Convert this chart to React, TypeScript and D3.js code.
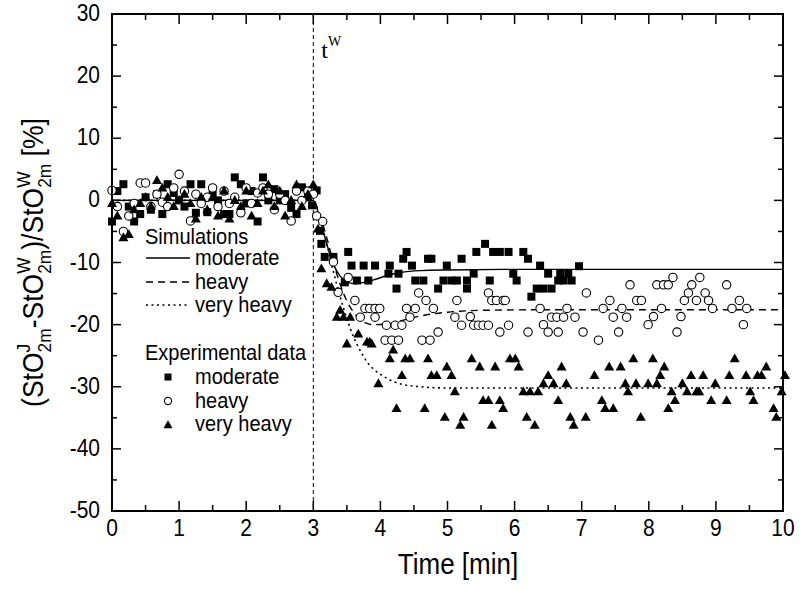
import React from "react";
import * as d3 from "d3";

// ---------- data (time [min], value [%]) ----------
const moderateExp: [number, number][] = [
  [0.0, -3.4], [0.08, 1.5], [0.17, 2.6], [0.25, -1.0], [0.33, -3.4], [0.42, -2.2], [0.5, 0.5], [0.58, -1.5],
  [0.67, 1.0], [0.75, -2.2], [0.83, 2.6], [0.92, 1.2], [1.0, 0.0], [1.08, -1.0], [1.17, 2.6], [1.25, -2.0],
  [1.33, 2.6], [1.42, -1.9], [1.5, 1.0], [1.58, 0.0], [1.67, -2.2], [1.75, -2.2], [1.83, 3.7], [1.92, 2.6],
  [2.0, -0.5], [2.08, 1.5], [2.17, -3.4], [2.25, 3.7], [2.33, 0.0], [2.42, 1.8], [2.5, 0.0], [2.58, 1.0],
  [2.67, -1.2], [2.75, -2.2], [2.83, 2.1], [2.92, 0.5], [2.98, -0.8], [3.05, 1.6], [3.1, -4.9], [3.12, -7.0],
  [3.17, -9.1], [3.3, -9.1], [3.47, -13.2], [3.52, -8.3], [3.57, -10.5], [3.65, -12.9], [3.75, -10.5],
  [3.82, -12.9], [3.92, -10.5], [4.12, -11.8], [4.14, -10.5], [4.24, -14.2], [4.27, -11.8], [4.34, -9.4],
  [4.39, -8.3], [4.47, -10.5], [4.52, -12.9], [4.64, -12.9], [4.71, -9.4], [4.76, -9.4], [4.86, -14.2],
  [4.94, -12.9], [4.99, -10.5], [5.06, -12.9], [5.14, -12.9], [5.21, -9.4], [5.29, -12.9], [5.29, -14.2],
  [5.39, -11.8], [5.43, -8.3], [5.56, -7.0], [5.63, -12.9], [5.68, -8.3], [5.78, -8.3], [5.91, -8.3],
  [5.98, -11.8], [6.03, -12.9], [6.13, -8.3], [6.2, -9.4], [6.25, -15.5], [6.33, -14.2], [6.38, -10.5],
  [6.43, -14.2], [6.5, -11.8], [6.55, -14.2], [6.65, -12.9], [6.68, -11.8], [6.73, -12.9], [6.8, -11.8],
  [6.85, -12.9], [6.96, -10.6],
];

const heavyExp: [number, number][] = [
  [0.0, 1.6], [0.08, -1.0], [0.17, -5.0], [0.25, -2.5], [0.33, -0.5], [0.42, 2.8], [0.5, 2.8], [0.58, -1.0],
  [0.67, 1.0], [0.75, -0.3], [0.83, -1.0], [0.92, 2.0], [1.0, 4.2], [1.08, 1.5], [1.17, -3.3], [1.25, 1.0],
  [1.33, -0.5], [1.42, 0.5], [1.5, 2.0], [1.58, -1.0], [1.67, 1.5], [1.75, -0.5], [1.83, 0.5], [1.92, -2.0],
  [2.0, 2.0], [2.08, -0.5], [2.17, 1.2], [2.25, 2.0], [2.33, 1.0], [2.42, -1.5], [2.5, 1.0], [2.58, 0.0],
  [2.67, -3.3], [2.75, 1.5], [2.83, 0.0], [2.92, 1.5], [3.0, 1.0], [3.05, -2.5], [3.14, -3.4], [3.3, -9.9],
  [3.37, -14.8], [3.52, -12.4], [3.62, -16.1], [3.7, -18.8], [3.77, -17.4], [3.84, -17.4], [3.92, -17.4],
  [3.92, -18.8], [3.99, -17.4], [4.07, -22.5], [4.09, -20.1], [4.17, -22.5], [4.22, -20.1], [4.27, -22.5],
  [4.32, -20.1], [4.39, -17.4], [4.44, -18.8], [4.52, -17.4], [4.57, -14.9], [4.62, -22.5], [4.68, -16.1],
  [4.74, -22.5], [4.79, -17.4], [4.86, -21.2], [5.11, -18.8], [5.14, -16.1], [5.21, -20.1], [5.34, -18.7],
  [5.39, -20.1], [5.46, -20.1], [5.53, -20.1], [5.61, -20.1], [5.61, -14.9], [5.66, -16.1], [5.73, -16.1],
  [5.78, -21.2], [5.83, -16.1], [5.86, -16.1], [5.91, -20.1], [6.2, -21.2], [6.38, -17.4], [6.43, -20.0],
  [6.5, -21.2], [6.55, -18.8], [6.63, -18.8], [6.65, -21.2], [6.73, -18.8], [6.78, -17.4], [6.9, -18.8],
  [7.02, -21.2], [7.07, -14.9], [7.25, -22.5], [7.32, -17.4], [7.42, -16.1], [7.47, -18.8], [7.55, -21.2],
  [7.6, -17.4], [7.67, -18.8], [7.72, -13.6], [7.82, -16.1], [7.89, -16.1], [7.99, -20.0], [8.07, -18.7],
  [8.12, -13.6], [8.19, -17.4], [8.22, -13.6], [8.29, -13.6], [8.36, -12.4], [8.42, -21.2], [8.48, -18.7],
  [8.53, -16.1], [8.59, -14.9], [8.64, -13.6], [8.71, -16.1], [8.76, -12.4], [8.84, -14.9], [8.89, -16.1],
  [8.95, -17.4], [9.16, -13.6], [9.24, -17.4], [9.35, -16.1], [9.41, -20.0], [9.46, -17.4],
];

const veryHeavyExp: [number, number][] = [
  [0.0, -0.5], [0.08, -2.5], [0.17, -6.0], [0.25, -5.5], [0.33, -1.5], [0.42, -0.5], [0.5, 0.5], [0.58, -1.0],
  [0.67, 3.2], [0.75, 2.0], [0.83, 0.5], [0.92, -1.0], [1.0, 0.0], [1.08, 1.0], [1.17, -0.5], [1.25, -3.0],
  [1.33, 0.5], [1.42, -1.5], [1.5, 0.5], [1.58, -2.5], [1.67, 1.5], [1.75, -3.0], [1.83, 0.0], [1.92, -1.0],
  [2.0, 1.5], [2.08, -2.5], [2.17, -0.5], [2.25, 1.5], [2.33, 2.5], [2.42, -1.0], [2.5, 1.5], [2.58, -2.5],
  [2.67, 0.0], [2.75, 2.5], [2.83, -1.0], [2.92, 1.0], [3.0, 2.5], [3.07, -4.6], [3.12, -11.0], [3.2, -13.4],
  [3.27, -14.0], [3.35, -18.8], [3.4, -17.7], [3.45, -18.8], [3.5, -23.1], [3.55, -18.8], [3.67, -21.5],
  [3.8, -22.8], [3.84, -22.8], [3.87, -23.1], [3.97, -29.5], [4.14, -25.5], [4.19, -24.1], [4.24, -33.5],
  [4.32, -28.2], [4.37, -25.5], [4.44, -25.5], [4.66, -33.5], [4.71, -25.5], [4.76, -28.2], [4.84, -28.2],
  [4.96, -34.9], [4.99, -26.8], [5.06, -28.2], [5.11, -30.8], [5.19, -36.2], [5.24, -34.9], [5.36, -25.5],
  [5.48, -26.8], [5.53, -32.2], [5.61, -32.2], [5.66, -36.2], [5.71, -26.8], [5.78, -32.2], [5.83, -33.5],
  [5.93, -25.5], [6.01, -25.5], [6.06, -26.8], [6.13, -30.8], [6.18, -34.9], [6.23, -30.8], [6.3, -36.2],
  [6.35, -30.8], [6.43, -29.5], [6.5, -28.2], [6.58, -29.5], [6.65, -32.2], [6.7, -26.8], [6.77, -29.5],
  [6.83, -34.9], [6.88, -36.2], [7.06, -34.9], [7.19, -28.2], [7.3, -32.2], [7.35, -33.5], [7.41, -26.8],
  [7.47, -33.5], [7.58, -26.8], [7.65, -29.5], [7.69, -30.8], [7.77, -25.5], [7.81, -29.5], [7.88, -34.9],
  [7.99, -29.5], [8.06, -25.5], [8.12, -29.5], [8.17, -28.2], [8.23, -26.8], [8.29, -33.5], [8.34, -30.8],
  [8.39, -32.2], [8.5, -29.5], [8.57, -30.8], [8.63, -28.2], [8.71, -30.8], [8.75, -30.8], [8.81, -28.2],
  [8.93, -32.2], [8.99, -29.5], [9.16, -32.2], [9.2, -28.2], [9.28, -25.5], [9.45, -28.2], [9.51, -30.8],
  [9.56, -32.2], [9.62, -28.2], [9.68, -28.2], [9.75, -26.8], [9.86, -33.5], [9.9, -34.9], [9.98, -30.8],
  [10.03, -28.2],
];

const moderateSim: [number, number][] = [
  [0, 0], [3, 0], [3.1, -3], [3.2, -7], [3.3, -10.3], [3.4, -12.2], [3.5, -13.1], [3.6, -13.4], [3.7, -13.3],
  [3.9, -12.8], [4.1, -12.1], [4.3, -11.6], [4.6, -11.3], [5, -11.2], [6, -11.1], [10, -11.1],
];
const heavySim: [number, number][] = [
  [0, 0], [3, 0], [3.1, -2.5], [3.2, -6], [3.3, -10], [3.4, -13.5], [3.5, -16.2], [3.6, -18.0], [3.7, -19.2],
  [3.8, -19.8], [3.9, -20.0], [4.1, -19.9], [4.3, -19.4], [4.6, -18.6], [5, -18.0], [5.5, -17.7], [6.5, -17.6],
  [10, -17.6],
];
const veryHeavySim: [number, number][] = [
  [0, 0], [3, 0], [3.1, -3], [3.2, -7], [3.3, -11.5], [3.4, -15.5], [3.5, -19], [3.6, -22], [3.7, -24.2],
  [3.8, -26], [3.9, -27.2], [4.0, -28.0], [4.2, -29.2], [4.5, -29.9], [5, -30.2], [10, -30.2],
];

const xTicks = [0, 1, 2, 3, 4, 5, 6, 7, 8, 9, 10];
const yTicks = [30, 20, 10, 0, -10, -20, -30, -40, -50];
const warmupTime = 3;

const FONT = "'Liberation Sans', Arial, Helvetica, sans-serif";

// text stretched slightly in height, like the reference's tall glyphs
function TallText(props: {
  x: number;
  y: number;
  size: number;
  anchor?: string;
  k?: number;
  children: React.ReactNode;
}) {
  const k = props.k ?? 1.12;
  return (
    <text
      transform={`translate(${props.x},${props.y}) scale(1,${k})`}
      fontSize={props.size}
      textAnchor={props.anchor ?? "start"}
    >
      {props.children}
    </text>
  );
}

export default function App() {
  const left = 112, right = 783, top = 14, bottom = 511;
  const x = d3.scaleLinear().domain([0, 10]).range([left, right]);
  const y = d3.scaleLinear().domain([-50, 30]).range([bottom, top]);
  const line = d3
    .line<[number, number]>()
    .x((d) => x(d[0]))
    .y((d) => y(d[1]))
    .curve(d3.curveMonotoneX);

  const xMinor = d3.range(0, 10.01, 0.5);
  const yMinor = d3.range(-50, 30.01, 5);

  const sq = 8;
  const tri = (cx: number, cy: number, s = 10) => {
    const h = s * 0.88;
    return `M${cx},${cy - h * 0.6}L${cx + s / 2},${cy + h * 0.4}L${cx - s / 2},${cy + h * 0.4}Z`;
  };

  const legX = 145;
  const lineX0 = 146, lineX1 = 190, textX = 195;
  const lk = 1.06;

  return (
    <svg
      width={800}
      height={589}
      style={{ position: "absolute", left: 0, top: 0, background: "#fff" }}
      fontFamily={FONT}
    >
      <rect x={0} y={0} width={800} height={589} fill="#fff" />
      {/* warm-up line */}
      <line
        x1={x(warmupTime)}
        x2={x(warmupTime)}
        y1={top}
        y2={bottom}
        stroke="#000"
        strokeWidth={1}
        strokeDasharray="4,3"
      />
      <text x={x(warmupTime) + 8} y={58} fontFamily="'Liberation Serif', 'Times New Roman', serif" fontSize={24}>
        t<tspan fontSize={14} dy={-12}>W</tspan>
      </text>

      {/* simulations */}
      <path d={line(moderateSim) || ""} fill="none" stroke="#000" strokeWidth={1.4} />
      <path d={line(heavySim) || ""} fill="none" stroke="#000" strokeWidth={1.4} strokeDasharray="7,5" />
      <path d={line(veryHeavySim) || ""} fill="none" stroke="#000" strokeWidth={1.6} strokeDasharray="2,3.5" />

      {/* experimental */}
      {moderateExp.map((d, i) => (
        <rect key={"m" + i} x={x(d[0]) - sq / 2} y={y(d[1]) - sq / 2} width={sq} height={sq} fill="#000" />
      ))}
      {heavyExp.map((d, i) => (
        <circle key={"h" + i} cx={x(d[0])} cy={y(d[1])} r={4.2} fill="#fff" stroke="#000" strokeWidth={1.1} />
      ))}
      {veryHeavyExp.map((d, i) => (
        <path key={"v" + i} d={tri(x(d[0]), y(d[1]))} fill="#000" />
      ))}

      {/* frame */}
      <rect x={left} y={top} width={right - left} height={bottom - top} fill="none" stroke="#000" strokeWidth={2} />

      {/* ticks */}
      {xMinor.map((t) => {
        const major = Math.abs(t - Math.round(t)) < 1e-6;
        const len = major ? 10 : 6;
        return (
          <g key={"xt" + t}>
            <line x1={x(t)} x2={x(t)} y1={bottom} y2={bottom - len} stroke="#000" strokeWidth={1.5} />
            <line x1={x(t)} x2={x(t)} y1={top} y2={top + len} stroke="#000" strokeWidth={1.5} />
          </g>
        );
      })}
      {yMinor.map((v) => {
        const major = Math.abs(v % 10) < 1e-6;
        const len = major ? 9 : 5;
        return (
          <g key={"yt" + v}>
            <line x1={left} x2={left + len} y1={y(v)} y2={y(v)} stroke="#000" strokeWidth={1.5} />
            <line x1={right} x2={right - len} y1={y(v)} y2={y(v)} stroke="#000" strokeWidth={1.5} />
          </g>
        );
      })}
      {xTicks.map((t) => (
        <TallText key={"xl" + t} x={x(t)} y={bottom + 25} size={21} anchor="middle">
          {t}
        </TallText>
      ))}
      {yTicks.map((v) => (
        <TallText key={"yl" + v} x={left - 12} y={y(v) + 7} size={21} anchor="end">
          {v}
        </TallText>
      ))}

      {/* axis titles */}
      <TallText x={458} y={574} size={26} anchor="middle">
        Time [min]
      </TallText>
      <text transform={`translate(43, ${(top + bottom) / 2}) rotate(-90) scale(1.02,1.12)`} textAnchor="middle" fontSize={26}>
        <tspan>(StO</tspan>
        <tspan fontSize={17} dy={-12}>J</tspan>
        <tspan fontSize={17} dx={-8.5} dy={19}>2m</tspan>
        <tspan dy={-7}>-StO</tspan>
        <tspan fontSize={17} dy={-12}>W</tspan>
        <tspan fontSize={17} dx={-16} dy={19}>2m</tspan>
        <tspan dy={-7}>)/StO</tspan>
        <tspan fontSize={17} dy={-12}>W</tspan>
        <tspan fontSize={17} dx={-16} dy={19}>2m</tspan>
        <tspan dy={-7}> [%]</tspan>
      </text>

      {/* legend */}
      <TallText x={legX} y={244} size={20} k={lk}>Simulations</TallText>
      <line x1={lineX0} x2={lineX1} y1={258} y2={258} stroke="#000" strokeWidth={1.4} />
      <TallText x={textX} y={265} size={20} k={lk}>moderate</TallText>
      <line x1={lineX0} x2={lineX1} y1={282} y2={282} stroke="#000" strokeWidth={1.4} strokeDasharray="7,5" />
      <TallText x={textX} y={289} size={20} k={lk}>heavy</TallText>
      <line x1={lineX0} x2={lineX1} y1={305} y2={305} stroke="#000" strokeWidth={1.6} strokeDasharray="2,3.5" />
      <TallText x={textX} y={312} size={20} k={lk}>very heavy</TallText>

      <TallText x={legX} y={360} size={20} k={lk}>Experimental data</TallText>
      <rect x={168 - 3.5} y={377 - 3.5} width={7} height={7} fill="#000" />
      <TallText x={textX} y={384} size={20} k={lk}>moderate</TallText>
      <circle cx={168} cy={401} r={3.6} fill="#fff" stroke="#000" strokeWidth={1.1} />
      <TallText x={textX} y={408} size={20} k={lk}>heavy</TallText>
      <path d={tri(168, 425, 9)} fill="#000" />
      <TallText x={textX} y={431} size={20} k={lk}>very heavy</TallText>
    </svg>
  );
}
